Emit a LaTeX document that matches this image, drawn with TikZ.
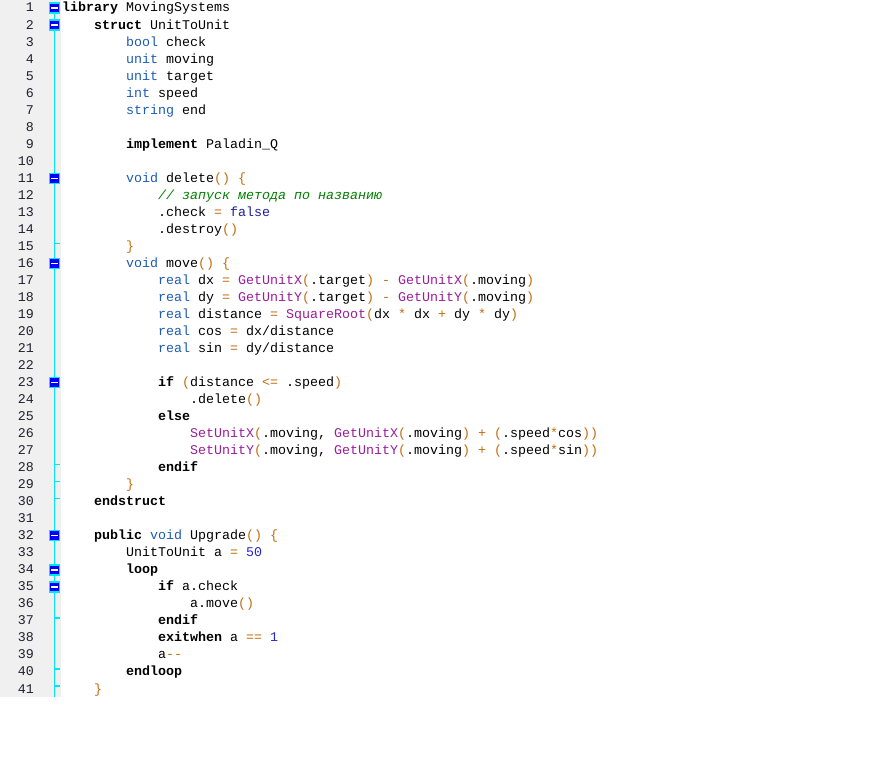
\documentclass[tikz,border=0pt]{standalone}
\usepackage{fontspec}
\setmonofont{Liberation Mono}
\definecolor{gutter}{HTML}{F0F0F0}
\definecolor{foldline}{HTML}{00E6F5}
\definecolor{foldbox}{HTML}{0000FF}
\definecolor{tycol}{HTML}{1E5CB4}
\definecolor{fncol}{HTML}{9A1E9A}
\definecolor{opcol}{HTML}{C06E10}
\definecolor{nmcol}{HTML}{2828C8}
\definecolor{cstcol}{HTML}{1E1EA0}
\definecolor{cmcol}{HTML}{008000}
\definecolor{lncol}{HTML}{202030}
\newcommand{\kw}[1]{\textbf{#1}}
\newcommand{\ty}[1]{\textcolor{tycol}{#1}}
\newcommand{\fn}[1]{\textcolor{fncol}{#1}}
\newcommand{\op}[1]{\textcolor{opcol}{#1}}
\newcommand{\nm}[1]{\textcolor{nmcol}{#1}}
\newcommand{\cst}[1]{\textcolor{cstcol}{#1}}
\newcommand{\cm}[1]{\textcolor{cmcol}{\itshape #1}}
\newcommand{\cl}[3]{\node[codeline] (l#1) at ({62+8*#2},{12+(#1-1)*17.025}) {#3};}
\begin{document}
\begin{tikzpicture}[x=1pt,y=-1pt,
  codeline/.style={anchor=base west,inner sep=0pt,font=\ttfamily\fontsize{13.33}{16}\selectfont},
  lnum/.style={anchor=base east,inner sep=0pt,text=lncol,font=\ttfamily\fontsize{13.33}{16}\selectfont},
  foldmark/.style={draw=foldline,fill=foldbox,line width=1.4pt,minimum width=10pt,minimum height=10pt,inner sep=0pt},
  foldtick/.style={draw=foldline,line width=1.5pt}]
\useasboundingbox (0,0) rectangle (877,779);
\fill[white] (0,0) rectangle (877,779);
\fill[gutter] (0,0) rectangle (61,697);
\coordinate (ftop) at (54.5,8);
\coordinate (fbot) at (54.5,697);
\draw[foldline,line width=1.6pt] (ftop) -- (fbot);
\foreach \n in {1,...,41}{
  \node[lnum] (n\n) at (34,{12+(\n-1)*17.025}) {\n};
}
\foreach \n in {15,28,29,30,37,40,41}{
  \coordinate (ta\n) at (54.5,{8+(\n-1)*17.025-3});
  \coordinate (tb\n) at (60,{8+(\n-1)*17.025-3});
  \draw[foldtick] (ta\n) -- (tb\n);
}
\foreach \n in {1,2,11,16,23,32,34,35}{
  \node[foldmark] (f\n) at (54.5,{8+(\n-1)*17.025}) {};
  \draw[white,line width=1.4pt] ([xshift=-3.2pt]f\n.center) -- ([xshift=3.2pt]f\n.center);
}
\cl{1}{0}{\kw{library} MovingSystems}
\cl{2}{4}{\kw{struct} UnitToUnit}
\cl{3}{8}{\ty{bool} check}
\cl{4}{8}{\ty{unit} moving}
\cl{5}{8}{\ty{unit} target}
\cl{6}{8}{\ty{int} speed}
\cl{7}{8}{\ty{string} end}
\cl{9}{8}{\kw{implement} Paladin\_Q}
\cl{11}{8}{\ty{void} delete\op{()} \op{\{}}
\cl{12}{12}{\cm{// запуск метода по названию}}
\cl{13}{12}{.check \op{=} \cst{false}}
\cl{14}{12}{.destroy\op{()}}
\cl{15}{8}{\op{\}}}
\cl{16}{8}{\ty{void} move\op{()} \op{\{}}
\cl{17}{12}{\ty{real} dx \op{=} \fn{GetUnitX}\op{(}.target\op{)} \op{-} \fn{GetUnitX}\op{(}.moving\op{)}}
\cl{18}{12}{\ty{real} dy \op{=} \fn{GetUnitY}\op{(}.target\op{)} \op{-} \fn{GetUnitY}\op{(}.moving\op{)}}
\cl{19}{12}{\ty{real} distance \op{=} \fn{SquareRoot}\op{(}dx \op{*} dx \op{+} dy \op{*} dy\op{)}}
\cl{20}{12}{\ty{real} cos \op{=} dx/distance}
\cl{21}{12}{\ty{real} sin \op{=} dy/distance}
\cl{23}{12}{\kw{if} \op{(}distance \op{<=} .speed\op{)}}
\cl{24}{16}{.delete\op{()}}
\cl{25}{12}{\kw{else}}
\cl{26}{16}{\fn{SetUnitX}\op{(}.moving, \fn{GetUnitX}\op{(}.moving\op{)} \op{+} \op{(}.speed\op{*}cos\op{))}}
\cl{27}{16}{\fn{SetUnitY}\op{(}.moving, \fn{GetUnitY}\op{(}.moving\op{)} \op{+} \op{(}.speed\op{*}sin\op{))}}
\cl{28}{12}{\kw{endif}}
\cl{29}{8}{\op{\}}}
\cl{30}{4}{\kw{endstruct}}
\cl{32}{4}{\kw{public} \ty{void} Upgrade\op{()} \op{\{}}
\cl{33}{8}{UnitToUnit a \op{=} \nm{50}}
\cl{34}{8}{\kw{loop}}
\cl{35}{12}{\kw{if} a.check}
\cl{36}{16}{a.move\op{()}}
\cl{37}{12}{\kw{endif}}
\cl{38}{12}{\kw{exitwhen} a \op{==} \nm{1}}
\cl{39}{12}{a\op{--}}
\cl{40}{8}{\kw{endloop}}
\cl{41}{4}{\op{\}}}
\end{tikzpicture}
\end{document}
